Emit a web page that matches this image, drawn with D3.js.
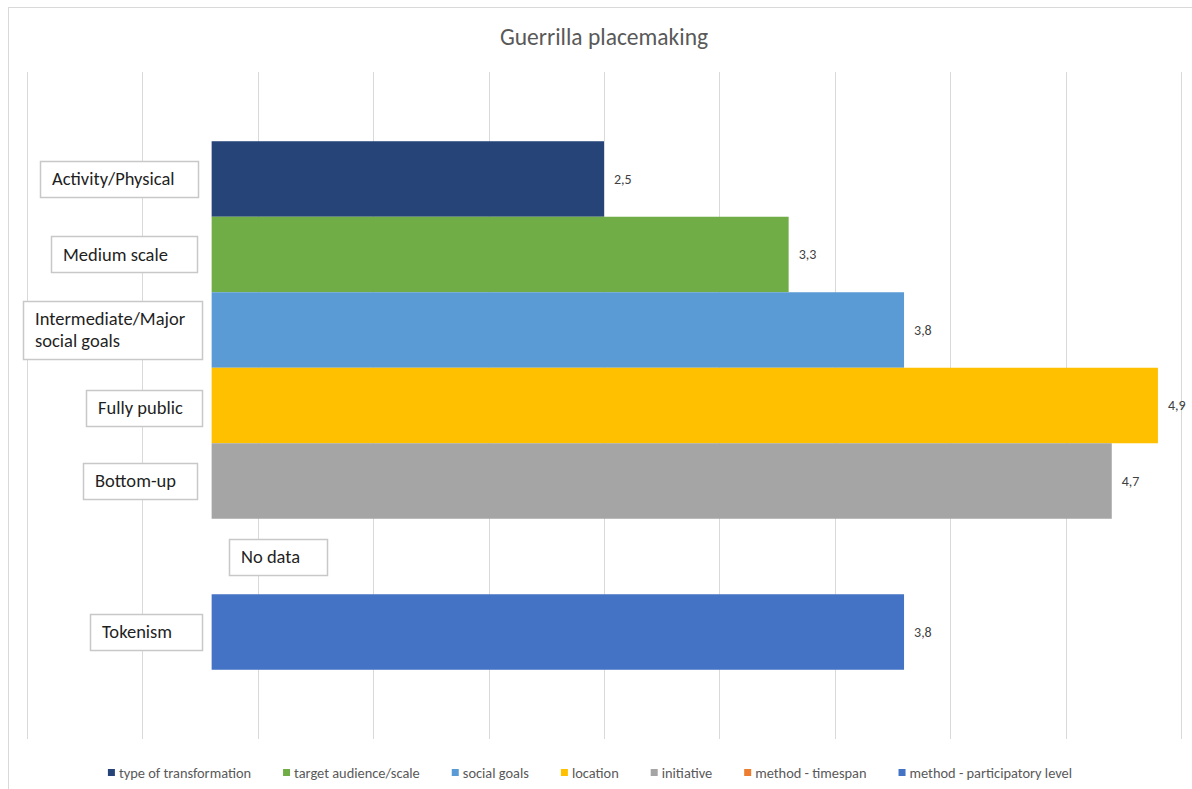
<!DOCTYPE html>
<html>
<head>
<meta charset="utf-8">
<script src="https://cdn.jsdelivr.net/npm/d3@7"></script>
<style>
  html, body { margin: 0; padding: 0; background: #ffffff; }
  svg { display: block; font-family: Carlito, Lato, "Open Sans", sans-serif; }
</style>
</head>
<body>
<svg id="chart" width="1192" height="789"></svg>
<script>
// Guerrilla placemaking: one score per criterion, one bar per criterion
const title = "Guerrilla placemaking";
const seriesNames = [
  "type of transformation",
  "target audience/scale",
  "social goals",
  "location",
  "initiative",
  "method - timespan",
  "method - participatory level"
];
const seriesValues = [2.5, 3.3, 3.8, 4.9, 4.7, null, 3.8];
const seriesColors = ["#264478", "#70AD47", "#5B9BD5", "#FFC000", "#A5A5A5", "#ED7D31", "#4472C4"];
const noteLabels = [
  ["Activity/Physical"],
  ["Medium scale"],
  ["Intermediate/Major", "social goals"],
  ["Fully public"],
  ["Bottom-up"],
  ["No data"],
  ["Tokenism"]
];
const axisTicks = d3.range(0, 5.01, 0.5);
// bars are drawn from this value outward; the span left of it holds the notes
const barFloor = 0.8;

const svg = d3.select("#chart");

// chart frame
svg.append("rect")
  .attr("x", 8.5).attr("y", 7.5)
  .attr("width", 1200).attr("height", 800)
  .attr("fill", "#ffffff")
  .attr("stroke", "#D9D9D9").attr("stroke-width", 1);

const plot = { left: 27, right: 1181, top: 72, bottom: 739 };

const x = d3.scaleLinear().domain([0, 5]).range([plot.left, plot.right]);
const y = d3.scaleBand()
  .domain(seriesNames)
  .range([plot.top, plot.bottom])
  .paddingInner(0)
  .paddingOuter(0.917);

// vertical gridlines
svg.append("g")
  .selectAll("line")
  .data(axisTicks)
  .join("line")
  .attr("x1", d => Math.round(x(d)) + 0.5)
  .attr("x2", d => Math.round(x(d)) + 0.5)
  .attr("y1", plot.top)
  .attr("y2", plot.bottom)
  .attr("stroke", "#D9D9D9")
  .attr("stroke-width", 1);

// title
svg.append("text")
  .attr("x", 604).attr("y", 45)
  .attr("text-anchor", "middle")
  .attr("font-size", 23.5)
  .attr("fill", "#595959")
  .text(title);

const rows = seriesNames.map((name, i) => ({
  name, value: seriesValues[i], color: seriesColors[i], note: noteLabels[i]
}));

// bars
svg.append("g")
  .selectAll("rect")
  .data(rows.filter(d => d.value != null))
  .join("rect")
  .attr("x", x(barFloor))
  .attr("y", d => y(d.name))
  .attr("width", d => x(d.value) - x(barFloor))
  .attr("height", y.bandwidth())
  .attr("fill", d => d.color);

// value labels
const fmt = v => d3.format(".1f")(v).replace(".", ",");
svg.append("g")
  .selectAll("text")
  .data(rows.filter(d => d.value != null))
  .join("text")
  .attr("x", d => x(d.value) + 10)
  .attr("y", d => y(d.name) + y.bandwidth() / 2)
  .attr("dy", "0.35em")
  .attr("font-size", 14)
  .attr("fill", "#404040")
  .text(d => fmt(d.value));

// note boxes beside the bars
const noteBoxes = [
  { left: 40, right: 198 },
  { left: 51, right: 197 },
  { left: 23, right: 202 },
  { left: 86, right: 202 },
  { left: 83, right: 197 },
  { left: 229, right: 327 },
  { left: 90, right: 202 }
];
const lineH = 22;
const notes = svg.append("g");
rows.forEach((d, i) => {
  const cy = y(d.name) + y.bandwidth() / 2 + (i === 3 ? 2 : 0);
  const nLines = d.note.length;
  const h = nLines === 1 ? 36 : 58;
  const b = noteBoxes[i];
  notes.append("rect")
    .attr("x", b.left + 0.5)
    .attr("y", Math.round(cy - h / 2) + 0.5)
    .attr("width", b.right - b.left)
    .attr("height", h)
    .attr("fill", "#ffffff")
    .attr("stroke", "#C8C8C8")
    .attr("stroke-width", 1.5);
  const t = notes.append("text")
    .attr("font-size", 18.5)
    .attr("fill", "#1f1f1f");
  d.note.forEach((line, k) => {
    t.append("tspan")
      .attr("x", b.left + 12)
      .attr("y", cy + (k - (nLines - 1) / 2) * lineH)
      .attr("dy", "0.35em")
      .text(line);
  });
});

// legend
const legend = svg.append("g");
const legendY = 773;
const items = [];
rows.forEach(d => {
  const g = legend.append("g");
  g.append("rect")
    .attr("x", 0).attr("y", legendY - 4)
    .attr("width", 7).attr("height", 7)
    .attr("fill", d.color);
  const t = g.append("text")
    .attr("x", 11).attr("y", legendY)
    .attr("dy", "0.35em")
    .attr("font-size", 14.4)
    .attr("fill", "#595959")
    .text(d.name);
  const w = 11 + t.node().getComputedTextLength();
  items.push({ g, w });
});
const gap = 32;
const total = d3.sum(items, d => d.w) + gap * (items.length - 1);
let cursor = 590 - total / 2;
items.forEach(it => {
  it.g.attr("transform", `translate(${cursor},0)`);
  cursor += it.w + gap;
});
</script>
</body>
</html>
